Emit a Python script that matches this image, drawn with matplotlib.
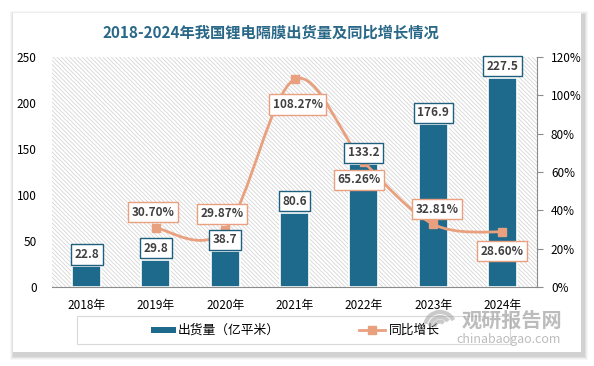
import numpy as np
import matplotlib.pyplot as plt
from matplotlib.path import Path
from matplotlib.patches import PathPatch, Rectangle, Arc
from matplotlib.lines import Line2D

plt.rcParams['font.family'] = ['Noto Sans CJK SC', 'DejaVu Sans']
plt.rcParams['hatch.color'] = '#d6d6d6'
plt.rcParams['hatch.linewidth'] = 0.6

years = ['2018年', '2019年', '2020年', '2021年', '2022年', '2023年', '2024年']
shipments = [22.8, 29.8, 38.7, 80.6, 133.2, 176.9, 227.5]
growth = [None, 30.70, 29.87, 108.27, 65.26, 32.81, 28.60]
# label offsets (px) for the growth boxes: (dx, dy)
growth_off = [None, (-3, 16), (-3, 16), (3, -25), (-5, -18), (4, 15), (0, -19)]

bar_color = '#1d6a8c'
line_color = '#e9a07e'
text_color = '#404040'

W, H = 594, 366
fx = lambda px: px / W
fy = lambda py: 1 - py / H

fig = plt.figure(figsize=(W / 100, H / 100), dpi=100)
fig.patch.set_facecolor('white')

# card with soft shadow
for i, a in enumerate([0.03, 0.04, 0.05, 0.06]):
    d = 5 - i
    fig.add_artist(Rectangle((fx(13 - d + 2), fy(352 + d + 3)), (568 + 2 * d) / W, (339 + 2 * d) / H,
                             transform=fig.transFigure, color='#000000', alpha=a, lw=0, zorder=0))
fig.add_artist(Rectangle((fx(13), fy(352)), 568 / W, 339 / H, transform=fig.transFigure,
                         color='white', lw=0, zorder=0.5))

ax = fig.add_axes([fx(52), fy(287), 485 / W, 230 / H])
ax.set_zorder(1)
ax.patch.set_facecolor('white')
ax.patch.set_hatch('\\' * 8)
ax.patch.set_edgecolor('#d6d6d6')
ax.patch.set_linewidth(0)

x = np.arange(len(years))
ax.bar(x, shipments, width=0.42, color=bar_color, edgecolor='white', linewidth=1.2, zorder=2)
ax.set_xlim(-0.5, len(years) - 0.5)
ax.set_ylim(0, 250)
ax.set_yticks(np.arange(0, 251, 50))
ax.set_xticks(x)
ax.set_xticklabels(years)
ax.tick_params(axis='both', length=0, labelsize=8.5, colors='black')
ax.tick_params(axis='x', pad=9)
ax.tick_params(axis='y', pad=11)
for s in ['top', 'right', 'left']:
    ax.spines[s].set_visible(False)
ax.spines['bottom'].set_color('#8c8c8c')

ax2 = ax.twinx()
ax2.set_ylim(0, 120)
ax2.set_yticks(np.arange(0, 121, 20))
ax2.set_yticklabels([f'{v}%' for v in range(0, 121, 20)])
ax2.tick_params(axis='y', length=4, direction='out', color='#8c8c8c', labelsize=8.5, pad=6)
for s in ['top', 'left', 'bottom']:
    ax2.spines[s].set_visible(False)
ax2.spines['right'].set_color('#8c8c8c')

gx = np.array([xi for xi, g in zip(x, growth) if g is not None], dtype=float)
gy = np.array([g for g in growth if g is not None], dtype=float)

# smooth curve through points (Catmull-Rom as cubic Bezier)
verts = [(gx[0], gy[0])]
codes = [Path.MOVETO]
n = len(gx)
for i in range(n - 1):
    p0 = np.array([gx[max(i - 1, 0)], gy[max(i - 1, 0)]])
    p1 = np.array([gx[i], gy[i]])
    p2 = np.array([gx[i + 1], gy[i + 1]])
    p3 = np.array([gx[min(i + 2, n - 1)], gy[min(i + 2, n - 1)]])
    c1 = p1 + (p2 - p0) / 6
    c2 = p2 - (p3 - p1) / 6
    verts += [tuple(c1), tuple(c2), tuple(p2)]
    codes += [Path.CURVE4] * 3
ax2.add_patch(PathPatch(Path(verts, codes), fc='none', ec=line_color, lw=2, zorder=3))
ax2.plot(gx, gy, ls='none', marker='s', ms=6, color=line_color, zorder=4)

for xi, v in zip(x, shipments):
    ax2.annotate(f'{v:.1f}', (xi, v), xycoords=ax.transData, xytext=(0, 5), textcoords='offset pixels',
                 ha='center', va='bottom', fontsize=8.5, fontweight='bold', color=text_color,
                 bbox=dict(boxstyle='square,pad=0.3', fc='white', ec='#1d5f7c', lw=1),
                 zorder=5)

for xi, g, off in zip(x, growth, growth_off):
    if g is None:
        continue
    ax2.annotate(f'{g:.2f}%', (xi, g), xytext=off, textcoords='offset pixels',
                 ha='center', va='center', fontsize=8.5, fontweight='bold', color=text_color,
                 bbox=dict(boxstyle='square,pad=0.3', fc='white', ec=line_color, lw=1),
                 zorder=6)

fig.text(fx(271), fy(33), '2018-2024年我国锂电隔膜出货量及同比增长情况', ha='center', va='center',
         fontsize=11, fontweight='bold', color='#2a6888')

# legend
fig.add_artist(Rectangle((fx(77), fy(344)), 433 / W, 28 / H, transform=fig.transFigure,
                         fc='white', ec='#d9d9d9', lw=0.8, zorder=2))
fig.add_artist(Rectangle((fx(151), fy(333)), 25 / W, 6 / H, transform=fig.transFigure,
                         fc=bar_color, lw=0, zorder=3))
fig.text(fx(178), fy(330), '出货量（亿平米）', ha='left', va='center', fontsize=9.2, zorder=3)
fig.add_artist(Line2D([fx(359), fx(385)], [fy(330), fy(330)], transform=fig.transFigure,
                      color=line_color, lw=2, zorder=3))
fig.add_artist(Line2D([fx(372)], [fy(330)], transform=fig.transFigure, color=line_color,
                      marker='s', ms=6, zorder=3))
fig.text(fx(389), fy(330), '同比增长', ha='left', va='center', fontsize=9.2, zorder=3)

# watermark
wm = '#a0a0a0'
for r, t1, t2 in [(30, 40, 160), (20, 50, 170), (11, 60, 180)]:
    fig.add_artist(Arc((fx(440), fy(327)), r / W, r / H, theta1=t1, theta2=t2,
                       transform=fig.transFigure, color=wm, lw=3, alpha=0.55, zorder=10))
fig.text(fx(512), fy(320), '观研报告网', ha='center', va='center', fontsize=14.5, fontweight='bold',
         color=wm, alpha=0.7, zorder=10)
fig.text(fx(509), fy(339), 'chinabaogao.com', ha='center', va='center', fontsize=9,
         color=wm, alpha=0.7, zorder=10)

fig.savefig('out.png', dpi=100)
